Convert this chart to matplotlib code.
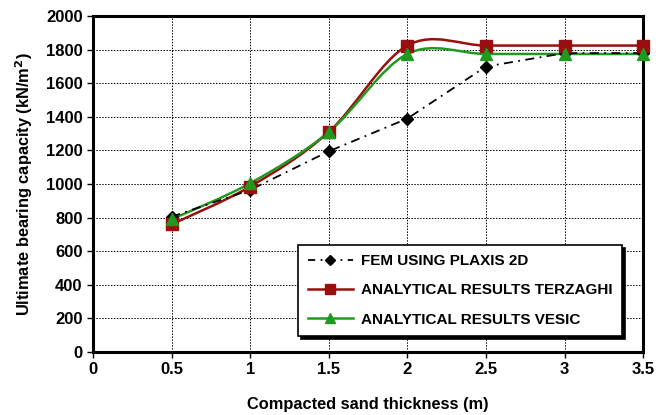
import numpy as np
import matplotlib
matplotlib.use("Agg")
import matplotlib.pyplot as plt
from matplotlib.path import Path
from matplotlib.patches import PathPatch
from matplotlib.lines import Line2D

# dados
espessura = [0.5, 1.0, 1.5, 2.0, 2.5, 3.0, 3.5]
fem_plaxis = [805, 965, 1195, 1390, 1700, 1780, 1780]
terzaghi = [760, 985, 1310, 1825, 1825, 1825, 1825]
vesic = [790, 1005, 1310, 1775, 1775, 1775, 1775]

x_ticks = [0, 0.5, 1, 1.5, 2, 2.5, 3, 3.5]
x_labels = ["0", "0.5", "1", "1.5", "2", "2.5", "3", "3.5"]
y_ticks = list(range(0, 2001, 200))

plt.rcParams["font.family"] = ["Liberation Sans", "DejaVu Sans"]
plt.rcParams["font.weight"] = "bold"


def curva_suave(ax, xs, ys, cor):
    # linha suavizada estilo Excel (bezier tipo Catmull-Rom)
    p = np.column_stack([xs, ys]).astype(float)
    n = len(p)
    verts = [p[0]]
    codes = [Path.MOVETO]
    for i in range(n - 1):
        p0 = p[i - 1] if i > 0 else p[i]
        p3 = p[i + 2] if i + 2 < n else p[i + 1]
        c1 = p[i] + (p[i + 1] - p0) / 6
        c2 = p[i + 1] - (p3 - p[i]) / 6
        verts += [c1, c2, p[i + 1]]
        codes += [Path.CURVE4] * 3
    patch = PathPatch(Path(verts, codes), facecolor="none", edgecolor=cor,
                      lw=1.8, transform=ax.transData, zorder=3)
    ax.add_patch(patch)


fig, ax = plt.subplots(figsize=(6.59, 4.15), dpi=100)
fig.subplots_adjust(left=0.141, right=0.976, top=0.961, bottom=0.152)

cor_terz = "#990f0f"
cor_vesic = "#1f9a1f"

ax.plot(espessura, fem_plaxis, color="black", ls=(0, (5, 3, 1, 3)), lw=1.3,
        marker="D", ms=6, zorder=4, clip_on=False)
curva_suave(ax, espessura, terzaghi, cor_terz)
ax.plot(espessura, terzaghi, ls="none", marker="s", ms=9, color=cor_terz,
        zorder=5, clip_on=False)
curva_suave(ax, espessura, vesic, cor_vesic)
ax.plot(espessura, vesic, ls="none", marker="^", ms=9, color=cor_vesic,
        zorder=6, clip_on=False)

ax.set_xlim(0, 3.5)
ax.set_ylim(0, 2000)
ax.set_xticks(x_ticks)
ax.set_xticklabels(x_labels)
ax.set_yticks(y_ticks)
ax.tick_params(labelsize=12, length=4, width=1)
for lab in ax.get_xticklabels() + ax.get_yticklabels():
    lab.set_fontweight("bold")
ax.grid(True, color="black", ls=(0, (1.5, 1.5)), lw=0.7)
for s in ax.spines.values():
    s.set_linewidth(2.2)

ax.set_xlabel("Compacted sand thickness (m)", fontsize=11.8, fontweight="bold", labelpad=14)
ax.set_ylabel("Ultimate bearing capacity (kN/m$^\\mathbf{2}$)", fontsize=11.8,
              fontweight="bold", labelpad=8)

handles = [
    Line2D([], [], color="black", ls=(0, (4, 3, 1, 3)), lw=1.3, marker="D", ms=5),
    Line2D([], [], color=cor_terz, lw=1.8, marker="s", ms=7),
    Line2D([], [], color=cor_vesic, lw=1.8, marker="^", ms=7),
]
labels = ["FEM USING PLAXIS 2D", "ANALYTICAL RESULTS TERZAGHI", "ANALYTICAL RESULTS VESIC"]
leg = ax.legend(handles, labels, loc="lower right", bbox_to_anchor=(0.975, 0.025),
                fontsize=11, frameon=True, fancybox=False, labelspacing=1.0,
                handlelength=3, handletextpad=0.5, borderpad=0.6, edgecolor="black",
                shadow={"color": "black", "alpha": 1})
leg.get_frame().set_linewidth(1.2)
leg.set_zorder(10)
for t in leg.get_texts():
    t.set_fontweight("bold")

plt.savefig("out.png", dpi=100)
